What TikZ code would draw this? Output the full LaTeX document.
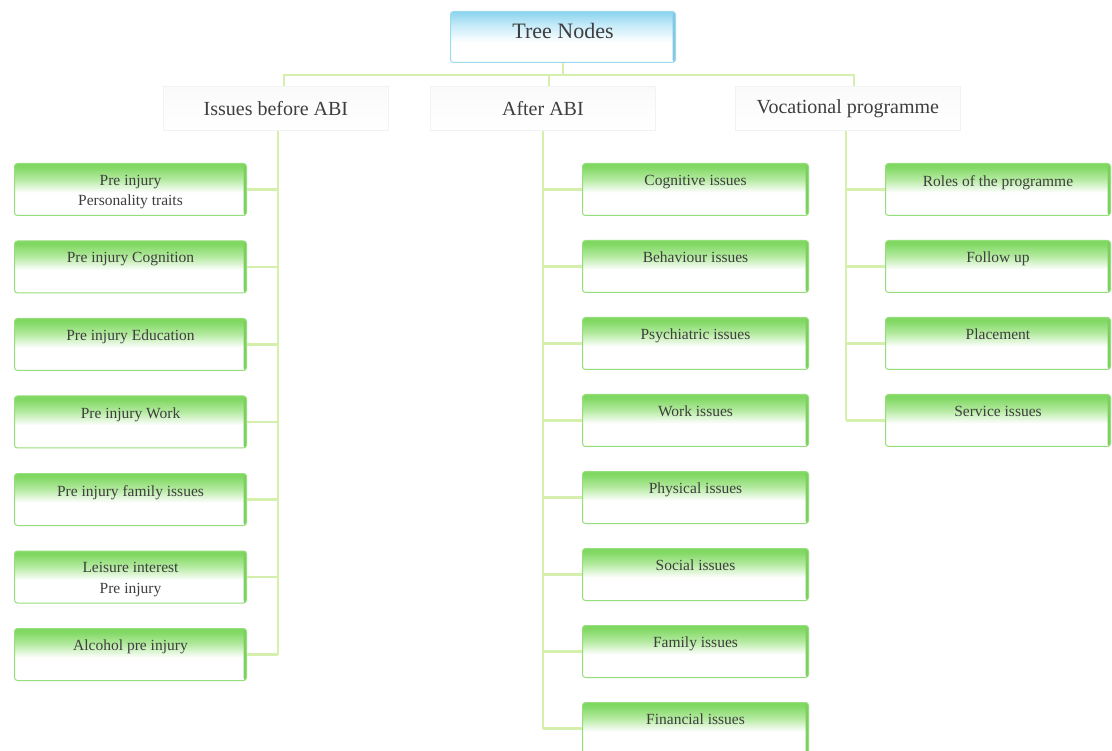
\documentclass[tikz,border=0pt]{standalone}
\usepackage{fontspec}
\setmainfont{Liberation Serif}
\definecolor{leaftop}{RGB}{128,216,98}
\definecolor{leafmid}{RGB}{180,234,160}
\definecolor{leafedge}{RGB}{150,222,122}
\definecolor{leafdark}{RGB}{124,208,96}
\definecolor{twig}{RGB}{212,240,172}
\definecolor{roottop}{RGB}{138,212,238}
\definecolor{rootmid}{RGB}{196,234,248}
\definecolor{rootedge}{RGB}{158,218,238}
\definecolor{rootdark}{RGB}{130,200,228}
\definecolor{ink}{RGB}{62,62,62}
\pgfdeclareverticalshading{leafshade}{100bp}{color(0bp)=(white); color(47bp)=(white); color(60bp)=(leafmid); color(72bp)=(leaftop); color(100bp)=(leaftop)}
\pgfdeclareverticalshading{rootshade}{100bp}{color(0bp)=(white); color(45bp)=(white); color(62bp)=(rootmid); color(75bp)=(roottop); color(100bp)=(roottop)}
\begin{document}
\begin{tikzpicture}[x=1pt,y=-1pt,
  twig/.style={draw=twig, line width=2.6pt},
  leaf/.style={draw=leafedge, line width=1pt, rounded corners=3pt, shading=leafshade,
    minimum height=52pt, anchor=north west, inner sep=0pt,
    path picture={\fill[leafdark] ([xshift=-3pt]path picture bounding box.north east) rectangle (path picture bounding box.south east);}},
  leafA/.style={leaf, minimum width=232pt},
  leafB/.style={leaf, minimum width=226pt},
  leafC/.style={leaf, minimum width=225pt},
  lbl/.style={anchor=north, yshift=-12pt, font=\fontsize{15.5}{20.5}\selectfont, text=ink, align=center, inner sep=0pt},
  root/.style={draw=rootedge, line width=1pt, rounded corners=3pt, shading=rootshade,
    minimum width=225pt, minimum height=51pt, anchor=north west, inner sep=0pt,
    path picture={\fill[rootdark] ([xshift=-3pt]path picture bounding box.north east) rectangle (path picture bounding box.south east);}},
  rootlbl/.style={anchor=north, yshift=-12pt, font=\fontsize{22}{26}\selectfont, text=ink, inner sep=0pt},
  branch/.style={draw=black!5, line width=0.8pt, top color=black!2, bottom color=white,
    minimum width=225pt, minimum height=44pt, anchor=north west, inner sep=0pt,
    font=\fontsize{20}{24}\selectfont, text=ink}
]
\useasboundingbox (0,0) rectangle (1112,751);
\fill[white] (0,0) rectangle (1112,751);

% root and the three branches
\node[root, label={[rootlbl, name=rootText]north:Tree Nodes}] (rootBox) at (450,11) {};
\node[branch] (brA) at (163,86) {Issues before ABI};
\node[branch] (brB) at (430,86) {After ABI};
\node[branch] (brC) at (735,86) {Vocational programme};

\coordinate (bar) at (0,75);

% left column
\node[leafA, label={[lbl, name=tA1]north:{Pre injury\\Personality traits}}] (a1) at (14,163) {};
\node[leafA, label={[lbl, name=tA2]north:Pre injury Cognition}] (a2) at (14,240.5) {};
\node[leafA, label={[lbl, name=tA3]north:Pre injury Education}] (a3) at (14,318) {};
\node[leafA, label={[lbl, name=tA4]north:Pre injury Work}] (a4) at (14,395.5) {};
\node[leafA, label={[lbl, name=tA5]north:Pre injury family issues}] (a5) at (14,473) {};
\node[leafA, label={[lbl, name=tA6]north:{Leisure interest\\Pre injury}}] (a6) at (14,550.5) {};
\node[leafA, label={[lbl, name=tA7]north:Alcohol pre injury}] (a7) at (14,628) {};

% middle column
\node[leafB, label={[lbl, name=tB1]north:Cognitive issues}] (b1) at (582,163) {};
\node[leafB, label={[lbl, name=tB2]north:Behaviour issues}] (b2) at (582,240) {};
\node[leafB, label={[lbl, name=tB3]north:Psychiatric issues}] (b3) at (582,317) {};
\node[leafB, label={[lbl, name=tB4]north:Work issues}] (b4) at (582,394) {};
\node[leafB, label={[lbl, name=tB5]north:Physical issues}] (b5) at (582,471) {};
\node[leafB, label={[lbl, name=tB6]north:Social issues}] (b6) at (582,548) {};
\node[leafB, label={[lbl, name=tB7]north:Family issues}] (b7) at (582,625) {};
\node[leafB, label={[lbl, name=tB8]north:Financial issues}] (b8) at (582,702) {};

% right column
\node[leafC, label={[lbl, name=tC1]north:Roles of the programme}] (c1) at (885,163) {};
\node[leafC, label={[lbl, name=tC2]north:Follow up}] (c2) at (885,240) {};
\node[leafC, label={[lbl, name=tC3]north:Placement}] (c3) at (885,317) {};
\node[leafC, label={[lbl, name=tC4]north:Service issues}] (c4) at (885,394) {};

% top-level connectors
\draw[twig] (rootBox.south) -- (rootBox.south |- bar);
\draw[twig] ([xshift=8pt]brA.north) -- ([xshift=8pt]brA.north |- bar) -- ([xshift=6pt]brC.north |- bar) -- ([xshift=6pt]brC.north);
\draw[twig] ([xshift=6pt]brB.north) -- ([xshift=6pt]brB.north |- bar);

% left spine
\draw[twig] ([xshift=2pt]brA.south) -- ([xshift=2pt]brA.south |- a7.east);
\foreach \n in {a1,a2,a3,a4,a5,a6,a7}
  \draw[twig] (\n.east) -- ([xshift=2pt]\n.east -| brA.south);

% middle spine
\draw[twig] (brB.south) -- (brB.south |- b8.west);
\foreach \n in {b1,b2,b3,b4,b5,b6,b7,b8}
  \draw[twig] (\n.west) -- (\n.west -| brB.south);

% right spine
\draw[twig] ([xshift=-2pt]brC.south) -- ([xshift=-2pt]brC.south |- c4.west);
\foreach \n in {c1,c2,c3,c4}
  \draw[twig] (\n.west) -- ([xshift=-2pt]\n.west -| brC.south);
\end{tikzpicture}
\end{document}
